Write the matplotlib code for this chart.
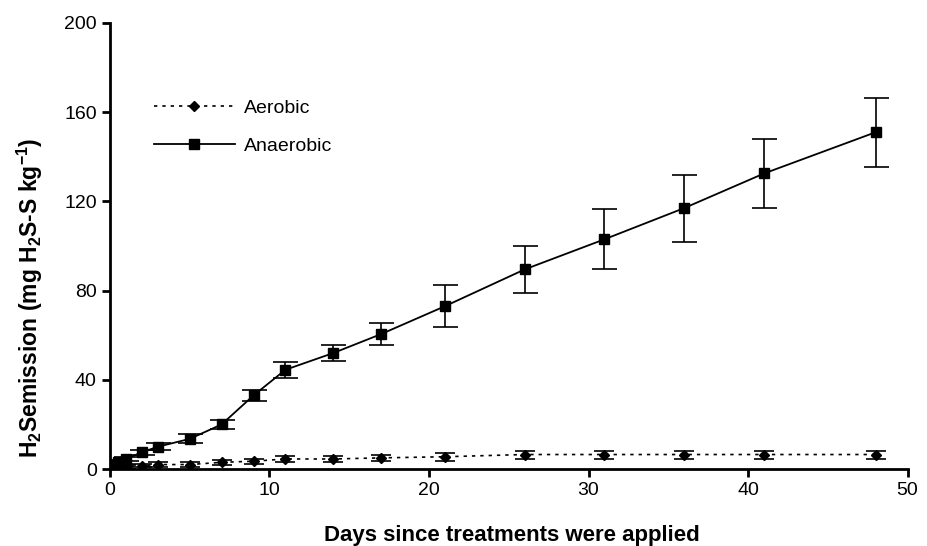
import matplotlib.pyplot as plt

plt.rcParams['font.family'] = 'Liberation Sans'
plt.rcParams['mathtext.fontset'] = 'custom'
plt.rcParams['mathtext.rm'] = 'Liberation Sans'
plt.rcParams['mathtext.bf'] = 'Liberation Sans:bold'

# Dias e valores
dias = [0.25, 0.5, 1, 2, 3, 5, 7, 9, 11, 14, 17, 21, 26, 31, 36, 41, 48]
aerobico = [0.5, 0.8, 1, 1.5, 2, 2, 3, 3.5, 4.5, 4.5, 5, 5.5, 6.5, 6.5, 6.5, 6.5, 6.5]
aerobico_erro = [0.5, 0.5, 0.8, 0.8, 1, 1, 1, 1.2, 1.2, 1.5, 1.5, 1.8, 1.8, 1.8, 1.8, 1.8, 1.8]
anaerobico = [2, 3, 4.5, 7.5, 10, 13.5, 20, 33, 44.5, 52, 60.5, 73, 89.5, 103, 117, 132.5, 151]
anaerobico_erro = [0.8, 1, 1, 1.2, 1.5, 2, 2, 2.5, 3.5, 3.5, 5, 9.5, 10.5, 13.5, 15, 15.5, 15.5]

fig = plt.figure(figsize=(9.28, 5.46), dpi=100)
ax = fig.add_axes([0.1185, 0.141, 0.8595, 0.817])

eb1 = ax.errorbar(dias, aerobico, yerr=aerobico_erro, color='black', ls=(0, (2, 3)), lw=1.2,
                  marker='D', ms=5.5, capsize=7, elinewidth=1.2, capthick=1.2)
eb2 = ax.errorbar(dias, anaerobico, yerr=anaerobico_erro, color='black', ls='-', lw=1.3,
                  marker='s', ms=7, capsize=9, elinewidth=1.2, capthick=1.2)

ax.set_xlim(0, 50)
ax.set_ylim(0, 200)
ax.set_xticks(range(0, 51, 10))
ax.set_yticks(range(0, 201, 40))
ax.tick_params(direction='out', length=6, width=2, labelsize=14)
for s in ['top', 'right']:
    ax.spines[s].set_visible(False)
for s in ['left', 'bottom']:
    ax.spines[s].set_linewidth(2)

ax.set_xlabel('Days since treatments were applied', fontsize=16, fontweight='bold')
ax.xaxis.set_label_coords(0.504, -0.126)
ax.set_ylabel(r'H$_\mathbf{2}$Semission (mg H$_\mathbf{2}$S-S kg$^\mathbf{-1}$)',
              fontsize=16.5, fontweight='bold')
ax.yaxis.set_label_coords(-0.082, 0.383)

ax.legend([eb1[0], eb2[0]], ['Aerobic', 'Anaerobic'], loc='upper left',
          bbox_to_anchor=(0.045, 0.846), frameon=False, fontsize=14,
          handlelength=4.2, handletextpad=0.45, labelspacing=1.05, borderaxespad=0)

fig.savefig('out.png', dpi=100)
